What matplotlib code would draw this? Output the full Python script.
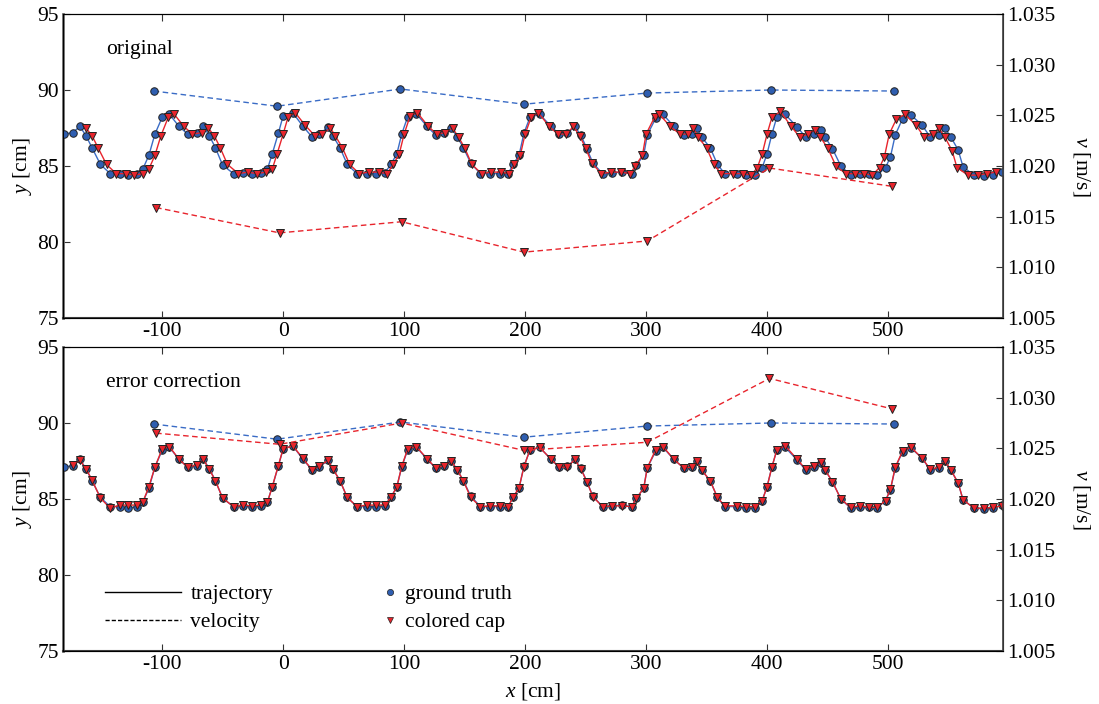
import matplotlib
matplotlib.use("Agg")
import matplotlib.pyplot as plt
from matplotlib.lines import Line2D

plt.rcParams['font.family'] = ['Liberation Serif', 'DejaVu Serif']
plt.rcParams['mathtext.fontset'] = 'custom'
plt.rcParams['mathtext.rm'] = 'Liberation Serif'
plt.rcParams['mathtext.it'] = 'Liberation Serif:italic'
plt.rcParams['axes.unicode_minus'] = False

# ground truth trajectory (x [cm], y [cm])
gt_x = [-181, -174, -168, -163, -158, -151, -143, -135, -128, -121, -116, -111, -106, -100,
        -94, -86, -79, -71, -66, -61, -56, -50, -41, -33, -26, -18, -13, -9, -4, 0,
        8, 16, 24, 30, 37, 41, 47, 53, 61, 69, 77, 84, 89, 94, 98, 103,
        110, 119, 126, 133, 139, 144, 149, 155, 163, 171, 179, 186, 190, 195, 199, 204,
        212, 221, 228, 235, 241, 246, 251, 256, 264, 272, 280, 288, 292, 298, 301, 308,
        314, 323, 331, 338, 342, 346, 353, 359, 365, 375, 383, 390, 396, 400, 404, 408,
        415, 425, 432, 439, 445, 448, 454, 461, 469, 477, 484, 491, 498, 502, 506, 512,
        519, 528, 535, 542, 547, 552, 558, 562, 571, 579, 587, 594]
gt_y = [87.1, 87.2, 87.6, 87.0, 86.2, 85.1, 84.5, 84.5, 84.4, 84.5, 84.8, 85.7, 87.1, 88.2,
        88.4, 87.6, 87.1, 87.2, 87.6, 87.0, 86.2, 85.05, 84.5, 84.55, 84.5, 84.55, 84.8, 85.8, 87.15, 88.3,
        88.5, 87.65, 86.9, 87.1, 87.55, 87.0, 86.2, 85.1, 84.5, 84.5, 84.5, 84.55, 85.1, 85.8, 87.1, 88.25,
        88.45, 87.6, 87.05, 87.2, 87.5, 86.9, 86.2, 85.2, 84.5, 84.5, 84.5, 84.5, 85.1, 85.7, 87.15, 88.2,
        88.4, 87.65, 87.1, 87.15, 87.6, 87.05, 86.15, 85.2, 84.5, 84.55, 84.6, 84.5, 85.05, 85.7, 87.05, 88.15,
        88.4, 87.6, 87.05, 87.1, 87.5, 86.9, 86.2, 85.1, 84.5, 84.5, 84.4, 84.4, 84.9, 85.8, 87.1, 88.2,
        88.4, 87.55, 86.9, 87.1, 87.4, 86.9, 86.15, 85.0, 84.4, 84.45, 84.45, 84.4, 84.9, 85.6, 87.05, 88.1,
        88.35, 87.7, 86.9, 87.05, 87.5, 86.9, 86.05, 84.95, 84.4, 84.35, 84.4, 84.6]

# colored cap, original
cap_orig_x = [-163, -158, -153, -146, -138, -130, -123, -116, -111, -106, -101, -95,
              -90, -82, -75, -67, -62, -57, -52, -46, -37, -29, -22, -14, -9, -5, 0, 4,
              10, 18, 26, 32, 39, 43, 49, 55, 63, 71, 79, 86, 91, 96, 100, 105,
              111, 120, 127, 134, 140, 145, 150, 156, 164, 172, 180, 187, 191, 196, 200, 205,
              211, 220, 227, 234, 240, 245, 250, 255, 263, 271, 279, 287, 291, 297, 300, 307,
              311, 320, 328, 335, 339, 343, 350, 356, 362, 372, 380, 387, 392, 396, 400, 404,
              411, 420, 427, 434, 440, 444, 450, 457, 465, 473, 480, 487, 493, 497, 501, 507,
              514, 523, 530, 537, 542, 547, 553, 557, 566, 574, 582, 589]
cap_orig_y = [87.5, 87.0, 86.2, 85.1, 84.5, 84.5, 84.4, 84.5, 84.8, 85.7, 87.0, 88.2,
              88.4, 87.6, 87.1, 87.2, 87.5, 87.0, 86.2, 85.1, 84.5, 84.6, 84.5, 84.6, 84.8, 85.8, 87.1, 88.2,
              88.5, 87.7, 87.0, 87.1, 87.5, 87.0, 86.2, 85.1, 84.5, 84.6, 84.6, 84.5, 85.1, 85.8, 87.1, 88.3,
              88.5, 87.6, 87.1, 87.2, 87.5, 86.9, 86.2, 85.1, 84.5, 84.6, 84.6, 84.5, 85.1, 85.7, 87.1, 88.2,
              88.5, 87.6, 87.1, 87.1, 87.6, 87.0, 86.2, 85.2, 84.5, 84.6, 84.6, 84.5, 85.0, 85.7, 87.1, 88.2,
              88.4, 87.6, 87.1, 87.1, 87.5, 86.9, 86.2, 85.1, 84.5, 84.5, 84.5, 84.4, 84.9, 85.8, 87.1, 88.2,
              88.6, 87.6, 86.9, 87.1, 87.4, 86.9, 86.2, 85.0, 84.5, 84.5, 84.5, 84.4, 84.9, 85.6, 87.1, 88.1,
              88.4, 87.7, 86.9, 87.1, 87.5, 86.9, 86.0, 84.9, 84.4, 84.4, 84.5, 84.6]

# colored cap, after error correction
cap_corr_x = [-174, -168, -163, -158, -151, -143, -135, -128, -121, -116, -111, -106, -100,
              -94, -86, -79, -71, -66, -61, -56, -50, -41, -33, -26, -18, -13, -9, -4, 0,
              8, 16, 24, 30, 37, 41, 47, 53, 61, 69, 77, 84, 89, 94, 98, 103,
              110, 119, 126, 133, 139, 144, 149, 155, 163, 171, 179, 186, 190, 195, 199, 204,
              212, 221, 228, 235, 241, 246, 251, 256, 264, 272, 280, 288, 292, 298, 301, 308,
              314, 323, 331, 338, 342, 346, 353, 359, 365, 375, 383, 390, 396, 400, 404, 408,
              415, 425, 432, 439, 445, 448, 454, 461, 469, 477, 484, 491, 498, 502, 506, 512,
              519, 528, 535, 542, 547, 552, 558, 562, 571, 579, 587, 594]
cap_corr_y = [87.25, 87.55, 87.0, 86.25, 85.05, 84.4, 84.6, 84.6, 84.6, 84.8, 85.8, 87.1, 88.3,
              88.45, 87.6, 87.1, 87.25, 87.6, 86.95, 86.2, 85.05, 84.5, 84.6, 84.55, 84.6, 84.8, 85.8, 87.2, 88.3,
              88.5, 87.7, 86.9, 87.15, 87.55, 87.0, 86.2, 85.1, 84.5, 84.6, 84.6, 84.6, 85.1, 85.8, 87.15, 88.3,
              88.45, 87.65, 87.05, 87.2, 87.5, 86.9, 86.2, 85.1, 84.5, 84.55, 84.55, 84.5, 85.1, 85.75, 87.1, 88.25,
              88.4, 87.65, 87.1, 87.1, 87.6, 87.0, 86.15, 85.15, 84.5, 84.55, 84.55, 84.5, 85.05, 85.7, 87.05, 88.25,
              88.45, 87.6, 87.05, 87.1, 87.5, 86.9, 86.2, 85.1, 84.55, 84.55, 84.5, 84.5, 84.9, 85.8, 87.1, 88.2,
              88.5, 87.6, 86.95, 87.15, 87.45, 86.9, 86.15, 85.0, 84.45, 84.55, 84.45, 84.45, 84.9, 85.65, 87.1, 88.15,
              88.4, 87.7, 86.95, 87.1, 87.5, 86.9, 86.05, 84.95, 84.4, 84.4, 84.45, 84.55]

# velocity per period (m/s)
vel_gt_x = [-107, -5, 97, 199, 301, 403, 505]
vel_gt = [1.0274, 1.0259, 1.0276, 1.0261, 1.0272, 1.0275, 1.0274]
vel_cap_x = [-105, -3, 98, 199, 301, 402, 503]
vel_cap_orig = [1.0159, 1.0134, 1.0145, 1.0115, 1.0126, 1.0198, 1.0180]
vel_cap_corr = [1.0265, 1.0254, 1.0275, 1.0248, 1.0256, 1.0319, 1.0289]

BLUE = '#2f5eb0'
BLUE_LINE = '#3a6cc6'
RED = '#e8242c'
EDGE = '#222222'
FS = 15.5


def style_axes(ax, ax2):
    ax.set_xlim(-182, 595)
    ax.set_ylim(75, 95)
    ax.set_yticks([75, 80, 85, 90, 95])
    ax.set_xticks([-100, 0, 100, 200, 300, 400, 500])
    ax2.set_ylim(1.005, 1.035)
    ax2.set_yticks([1.005, 1.010, 1.015, 1.020, 1.025, 1.030, 1.035])
    ax2.set_yticklabels(['1.005', '1.010', '1.015', '1.020', '1.025', '1.030', '1.035'])
    ax.tick_params(axis='both', direction='in', labelsize=FS, length=5, width=0.8,
                   top=True, colors='#333333', labelcolor='black', pad=3)
    ax2.tick_params(axis='y', direction='in', labelsize=FS, length=5, width=0.8,
                    colors='#333333', labelcolor='black', pad=3)
    ax.spines['left'].set_color('#707070')
    ax.spines['left'].set_linewidth(2.0)
    ax.spines['bottom'].set_color('#404040')
    ax.spines['bottom'].set_linewidth(1.5)
    ax.spines['top'].set_color('black')
    ax.spines['top'].set_linewidth(0.8)
    ax2.spines['right'].set_color('#404040')
    ax2.spines['right'].set_linewidth(1.2)
    ax.set_ylabel('$y$ [cm]', fontsize=FS, labelpad=2)
    ax2.set_ylabel('$v$ [m/s]', fontsize=FS, rotation=270, labelpad=26)


def draw_panel(ax, cap_x, cap_y, vel_cap, label):
    ax2 = ax.twinx()
    ax.plot(gt_x, gt_y, '-', color=BLUE_LINE, lw=1.0, marker='o', ms=5.4,
            mfc=BLUE, mec=EDGE, mew=0.7, zorder=3)
    ax.plot(cap_x, cap_y, '-', color=RED, lw=1.0, marker='v', ms=5.8,
            mfc=RED, mec=EDGE, mew=0.7, zorder=4)
    ax2.plot(vel_gt_x, vel_gt, '--', color=BLUE_LINE, lw=1.0, dashes=(4, 2.5),
             marker='o', ms=5.4, mfc=BLUE, mec=EDGE, mew=0.7)
    ax2.plot(vel_cap_x, vel_cap, '--', color=RED, lw=1.0, dashes=(4, 2.5),
             marker='v', ms=5.8, mfc=RED, mec=EDGE, mew=0.7)
    ax.text(0.046, 0.882, label, transform=ax.transAxes, fontsize=FS, va='center')
    style_axes(ax, ax2)
    return ax2


fig = plt.figure(figsize=(10.99, 7.04), dpi=100)
ax_top = fig.add_axes([0.0573, 0.5483, 0.8553, 0.4318])
ax_bot = fig.add_axes([0.0573, 0.0753, 0.8553, 0.4318])

draw_panel(ax_top, cap_orig_x, cap_orig_y, vel_cap_orig, 'original')
draw_panel(ax_bot, cap_corr_x, cap_corr_y, vel_cap_corr, 'error correction')
ax_bot.set_xlabel('$x$ [cm]', fontsize=FS, labelpad=5)

# legends
line_handles = [Line2D([], [], color='black', lw=1.0, ls='-'),
                Line2D([], [], color='black', lw=1.0, ls=(0, (3, 1.5)))]
leg1 = ax_bot.legend(line_handles, ['trajectory', 'velocity'], loc='upper left',
                     bbox_to_anchor=(0.045, 0.219), frameon=False, fontsize=FS,
                     handlelength=3.5, handletextpad=0.45, borderpad=0,
                     borderaxespad=0, labelspacing=0.35)
ax_bot.add_artist(leg1)
mark_handles = [Line2D([], [], ls='none', marker='o', ms=4.5, mfc=BLUE, mec=EDGE, mew=0.5),
                Line2D([], [], ls='none', marker='v', ms=4.5, mfc=RED, mec=EDGE, mew=0.5)]
ax_bot.legend(mark_handles, ['ground truth', 'colored cap'], loc='upper left',
              bbox_to_anchor=(0.341, 0.219), frameon=False, fontsize=FS,
              handlelength=0.6, handletextpad=0.4, borderpad=0, borderaxespad=0,
              labelspacing=0.35)

fig.savefig('out.png', dpi=100)
